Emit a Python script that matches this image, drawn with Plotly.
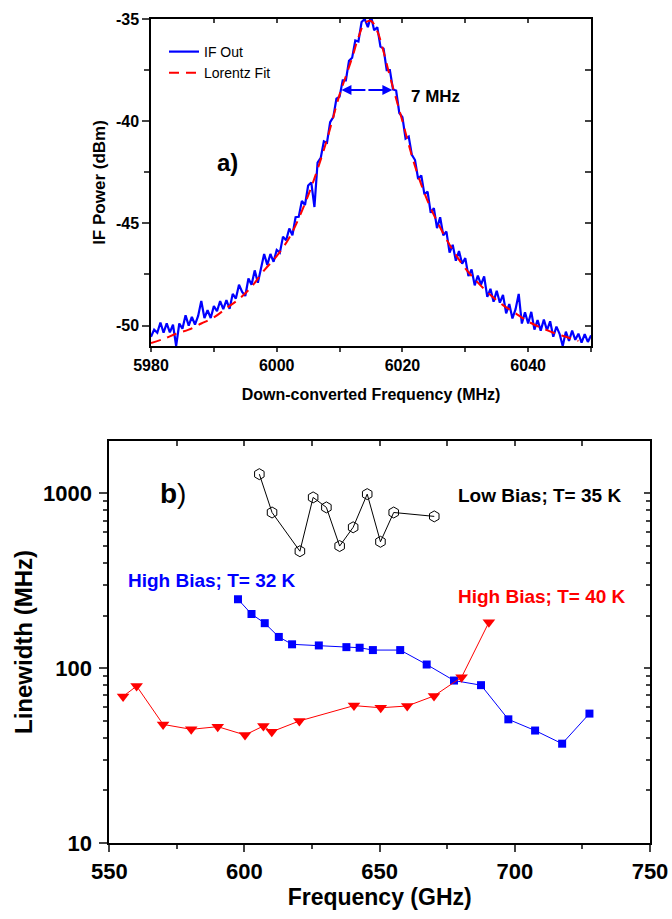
import plotly.graph_objects as go

FONT = "Liberation Sans, Arial, sans-serif"

# ---- panel a) IF spectrum, 0.5 MHz steps from 5980 MHz ----
if_start = 5980
if_step = 0.5
if_power = [
    -50.55, -50.20, -50.35, -49.85, -50.35, -49.89, -50.33, -49.96, -51.00, -49.90,
    -50.15, -49.50, -50.00, -49.58, -49.95, -49.53, -48.80, -49.63, -49.25, -49.63,
    -49.05, -49.30, -48.80, -49.20, -48.75, -49.18, -48.45, -48.68, -48.00, -48.35,
    -48.55, -47.70, -48.00, -47.30, -47.90, -47.15, -46.50, -47.03, -46.50, -46.88,
    -46.30, -46.43, -45.65, -45.83, -45.25, -45.58, -44.70, -44.68, -43.90, -44.10,
    -43.15, -43.00, -44.20, -42.03, -41.80, -40.98, -41.05, -40.05, -39.80, -38.90,
    -38.80, -38.00, -38.00, -37.05, -36.90, -36.05, -36.10, -35.15, -35.00, -35.40,
    -34.85, -35.55, -35.40, -36.35, -36.45, -37.50, -37.50, -38.45, -38.50, -39.60,
    -39.80, -40.85, -40.75, -41.65, -41.90, -42.83, -42.65, -43.58, -43.45, -44.48,
    -44.25, -45.23, -44.70, -45.58, -45.40, -46.43, -46.05, -46.83, -46.35, -46.98,
    -46.70, -47.58, -47.25, -48.03, -47.55, -48.00, -47.60, -48.60, -48.20, -48.83,
    -48.30, -48.88, -48.50, -49.40, -48.95, -49.65, -49.20, -48.45, -49.90, -49.35,
    -49.90, -49.33, -50.20, -49.73, -50.25, -49.71, -50.23, -49.79, -50.55, -50.05,
    -50.40, -51.00, -50.30, -50.75, -50.25, -50.70, -50.40, -50.83, -50.42, -50.80,
    -50.48,
]

fit_freq = [5980, 5982, 5984, 5986, 5988, 5990, 5992, 5994, 5996, 5998,
            6000, 6002, 6004, 6006, 6008, 6010, 6011, 6012, 6013, 6014,
            6015, 6016, 6017, 6018, 6019, 6020, 6022, 6024, 6026, 6028,
            6030, 6032, 6034, 6036, 6038, 6040, 6042, 6044, 6046, 6048]
fit_power = [-50.85, -50.65, -50.40, -50.20, -49.90, -49.60, -49.15, -48.70, -48.10, -47.30,
             -46.60, -45.70, -44.40, -42.80, -40.90, -38.70, -37.80, -36.90, -35.90, -35.20,
             -35.10, -35.60, -36.60, -37.80, -38.90, -40.00, -42.20, -43.90, -45.20, -46.30,
             -47.20, -47.90, -48.50, -49.00, -49.40, -49.80, -50.10, -50.35, -50.55, -50.75]

power_ticks = [-50, -45, -40, -35]
power_labels = ["-50", "-45", "-40", "-35"]

# FWHM marker
fwhm_left = 6010.3
fwhm_right = 6018.4
fwhm_level = -38.47

# ---- panel b) linewidth vs frequency ----
high32_freq = [597.6, 602.6, 607.5, 612.7, 617.6, 627.5, 637.7, 642.6, 647.5,
               657.6, 667.4, 677.5, 687.5, 697.6, 707.5, 717.5, 727.6]
high32_lw = [248, 204, 181, 151, 137, 135, 132, 131, 127,
             127, 105, 85, 80, 51, 44, 37, 55]

high40_freq = [555.1, 560.1, 569.9, 580.3, 590.1, 600.2, 607.0, 610.1,
               620.3, 640.5, 650.4, 660.2, 670.1, 680.3, 690.4]
high40_lw = [69, 79, 47.7, 44.7, 46.3, 41.5, 46.7, 43.3,
             49.9, 61.1, 59.4, 60.8, 69.4, 88.8, 183]

low35_freq = [605.5, 610.2, 620.5, 625.4, 630.3, 635.2, 640.2, 645.4, 650.3, 655.2, 670.2]
low35_lw = [1289, 778, 467, 949, 832, 500, 640, 991, 529, 778, 739]

lw_major = [10, 100, 1000]
lw_minor = [m * d for d in (10, 100) for m in range(2, 10)]

W, H = 672, 919
BLUE = "#0000ff"
RED = "#ff0000"

fig = go.Figure()

fig.add_trace(go.Scatter(x0=if_start, dx=if_step, y=if_power, mode="lines",
                         line=dict(color=BLUE, width=2.2), name="IF Out"))
fig.add_trace(go.Scatter(x=fit_freq, y=fit_power, mode="lines", name="Lorentz Fit",
                         line=dict(color=RED, width=2, dash="10px,7px", shape="spline")))

fig.add_trace(go.Scatter(x=low35_freq, y=low35_lw, mode="lines+markers", showlegend=False,
                         xaxis="x2", yaxis="y2", line=dict(color="black", width=1),
                         marker=dict(symbol="hexagon-open", size=11, color="black",
                                     line=dict(width=1))))
fig.add_trace(go.Scatter(x=high32_freq, y=high32_lw, mode="lines+markers", showlegend=False,
                         xaxis="x2", yaxis="y2", line=dict(color=BLUE, width=1),
                         marker=dict(symbol="square", size=8, color=BLUE)))
fig.add_trace(go.Scatter(x=high40_freq, y=high40_lw, mode="lines+markers", showlegend=False,
                         xaxis="x2", yaxis="y2", line=dict(color=RED, width=1),
                         marker=dict(symbol="triangle-down", size=11, color=RED)))

# empty traces so the mirrored (top/right) axes get drawn
fig.add_trace(go.Scatter(x=[], y=[], xaxis="x3", yaxis="y3", showlegend=False, hoverinfo="skip"))
fig.add_trace(go.Scatter(x=[], y=[], xaxis="x4", yaxis="y4", showlegend=False, hoverinfo="skip"))

# domains from pixel positions of the reference
ax_dom = [151 / W, 591 / W]
ay_dom = [1 - 346 / H, 1 - 19 / H]
bx_dom = [109.3 / W, 650 / W]
by_dom = [1 - 843 / H, 1 - 441 / H]

a_xrange = [5980, 6050]
a_yrange = [-51, -35]
b_xrange = [550, 750]
b_yrange = [1, 3.3]

bold = dict(family=FONT, color="black", weight="bold")
common = dict(showgrid=False, zeroline=False, showline=True, linecolor="black",
              automargin=False)

fig.update_layout(
    width=W, height=H,
    margin=dict(l=0, r=0, t=0, b=0, autoexpand=False),
    paper_bgcolor="white", plot_bgcolor="white",
    font=dict(family=FONT, color="black"),
    showlegend=True,
    legend=dict(x=164 / W, y=1 - 36 / H, xanchor="left", yanchor="top",
                bgcolor="rgba(0,0,0,0)", font=dict(size=14), tracegroupgap=0),
    xaxis=dict(domain=ax_dom, anchor="y", range=a_xrange, linewidth=1.5,
               tick0=5980, dtick=20, ticks="outside", ticklen=4, tickwidth=1.5,
               minor=dict(dtick=10, ticks="outside", ticklen=4, tickwidth=1.5),
               tickfont=dict(size=16, **bold),
               title=dict(text="Down-converted Frequency (MHz)", font=dict(size=16, **bold),
                          standoff=16), **common),
    yaxis=dict(domain=ay_dom, anchor="x", range=a_yrange, linewidth=1.5,
               tickmode="array", tickvals=power_ticks, ticktext=power_labels,
               ticks="outside", ticklen=7, tickwidth=1.5,
               minor=dict(tickmode="linear", tick0=-50, dtick=2.5, ticks="outside",
                          ticklen=5, tickwidth=1.5),
               tickfont=dict(size=16, **bold),
               title=dict(text="IF Power (dBm)", font=dict(size=17, **bold), standoff=6),
               **common),
    xaxis3=dict(overlaying="x", side="top", anchor="y", range=a_xrange, linewidth=1.5,
                tick0=5980, dtick=10, ticks="inside", ticklen=4, tickwidth=1.5,
                showticklabels=False, **common),
    yaxis3=dict(overlaying="y", side="right", anchor="x", range=a_yrange, linewidth=1.5,
                tick0=-50, dtick=2.5, ticks="inside", ticklen=6, tickwidth=1.5,
                showticklabels=False, **common),
    xaxis2=dict(domain=bx_dom, anchor="y2", range=b_xrange, linewidth=2,
                tick0=550, dtick=50, ticks="outside", ticklen=7, tickwidth=2,
                minor=dict(dtick=25, ticks="outside", ticklen=4, tickwidth=2),
                tickfont=dict(size=22, **bold), ticklabelstandoff=1,
                title=dict(text="Frequency (GHz)", font=dict(size=23, **bold), standoff=4),
                **common),
    yaxis2=dict(domain=by_dom, anchor="x2", type="log", range=b_yrange, linewidth=2,
                tickmode="array", tickvals=lw_major, ticktext=[str(v) for v in lw_major],
                ticks="outside", ticklen=8, tickwidth=2,
                minor=dict(tickmode="array", tickvals=lw_minor, ticks="outside",
                           ticklen=4, tickwidth=2),
                tickfont=dict(size=22, **bold), ticklabelstandoff=3,
                title=dict(text="Linewidth (MHz)", font=dict(size=24, **bold), standoff=4),
                **common),
    xaxis4=dict(overlaying="x2", side="top", anchor="y2", range=b_xrange, linewidth=2,
                tick0=550, dtick=25, ticks="inside", ticklen=5, tickwidth=2,
                showticklabels=False, **common),
    yaxis4=dict(overlaying="y2", side="right", anchor="x2", type="log", range=b_yrange,
                linewidth=2, tickmode="array", tickvals=lw_major, ticks="inside",
                ticklen=6, tickwidth=2,
                minor=dict(tickmode="array", tickvals=lw_minor, ticks="inside",
                           ticklen=4, tickwidth=2),
                showticklabels=False, **common),
)

fwhm_mid = (fwhm_left + fwhm_right) / 2
annotations = [
    dict(x=5992.1, y=-42.0, xref="x", yref="y", text="<b>a)</b>", showarrow=False,
         font=dict(size=24, family=FONT, color="black")),
    dict(x=6025.3, y=-38.8, xref="x", yref="y", text="<b>7 MHz</b>", showarrow=False,
         font=dict(size=17, family=FONT, color="black")),
    dict(x=fwhm_left, y=fwhm_level, ax=fwhm_mid, ay=fwhm_level, xref="x", yref="y",
         axref="x", ayref="y", text="", showarrow=True, arrowhead=2, arrowsize=1,
         arrowwidth=2, arrowcolor=BLUE, standoff=0, startstandoff=0),
    dict(x=fwhm_right, y=fwhm_level, ax=fwhm_mid, ay=fwhm_level, xref="x", yref="y",
         axref="x", ayref="y", text="", showarrow=True, arrowhead=2, arrowsize=1,
         arrowwidth=2, arrowcolor=BLUE, standoff=0, startstandoff=0),
    dict(x=573.6, y=3.0, xref="x2", yref="y2", text="<b>b</b>)", showarrow=False,
         font=dict(size=28, family=FONT, color="black")),
    dict(x=709.3, y=2.99, xref="x2", yref="y2", text="<b>Low Bias; T= 35 K</b>",
         showarrow=False, font=dict(size=19, family=FONT, color="black")),
    dict(x=588.0, y=2.504, xref="x2", yref="y2", text="<b>High Bias; T= 32 K</b>",
         showarrow=False, font=dict(size=19, family=FONT, color=BLUE)),
    dict(x=709.9, y=2.412, xref="x2", yref="y2", text="<b>High Bias; T= 40 K</b>",
         showarrow=False, font=dict(size=19, family=FONT, color=RED)),
]
fig.update_layout(annotations=annotations)

# the page body has an 8px default margin; drop it so the figure fills the window
fig.write_html("out.html", config={"displayModeBar": False},
               post_script="document.body.style.margin='0px';")
